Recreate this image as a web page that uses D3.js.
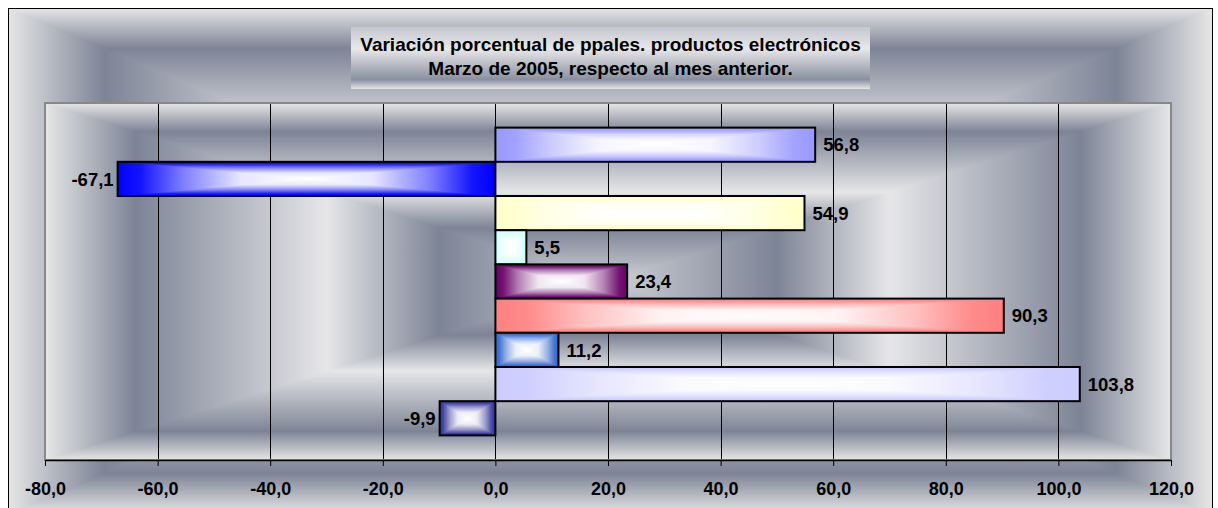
<!DOCTYPE html>
<html>
<head>
<meta charset="utf-8">
<script src="https://cdn.jsdelivr.net/npm/d3@7"></script>
<style>
  body { margin: 0; background: #fff; }
  text { font-family: "Liberation Sans", Arial, sans-serif; font-weight: bold; fill: #000; }
</style>
</head>
<body>
<div id="container"></div>
<script>
// chart data (top to bottom)
const SERIES = ["Serie 1", "Serie 2", "Serie 3", "Serie 4", "Serie 5", "Serie 6", "Serie 7", "Serie 8", "Serie 9"];
const VALUES = [56.8, -67.1, 54.9, 5.5, 23.4, 90.3, 11.2, 103.8, -9.9];
const PALETTE = ["#9999ff", "#0000ff", "#ffffcc", "#ccffff", "#660066", "#ff8080", "#3366cc", "#ccccff", "#333399"];
const TICKS = [-80, -60, -40, -20, 0, 20, 40, 60, 80, 100, 120];
const TITLE = ["Variación porcentual de ppales. productos electrónicos", "Marzo de 2005, respecto al mes anterior."];

// layout constants
const WIDTH = 1218;
const HEIGHT = 508;
const FRAME = { x0: 8, y0: 8, x1: 1212, y1: 514 };
const PLOT = { x0: 45, y0: 103, x1: 1171, y1: 460 };
const TITLE_BOX = { x0: 351, y0: 27, x1: 870, y1: 89 };

// spanish style number: one decimal, comma, plain hyphen
const fmt = (v) => d3.format(".1f")(v).replace(".", ",").replace("\u2212", "-");

const svg = d3.select("#container")
    .append("svg")
    .attr("width", WIDTH)
    .attr("height", HEIGHT);

const defs = svg.append("defs");

// gradient that runs edge -> center -> edge (stops given from edge (0) to center (1))
const mirrored = (id, stops, vertical) => {
    const all = stops.map(([s, c]) => [s / 2, c])
        .concat(stops.slice().reverse().map(([s, c]) => [1 - s / 2, c]));
    defs.append("linearGradient")
        .attr("id", id)
        .attr("x1", 0).attr("y1", 0)
        .attr("x2", vertical ? 0 : 1).attr("y2", vertical ? 1 : 0)
        .selectAll("stop")
        .data(all)
        .enter()
        .append("stop")
        .attr("offset", (d) => d[0])
        .attr("stop-color", (d) => d[1]);
};

// "from center" rectangle shading: vertical part on the whole rect, horizontal part on a bowtie
const makeShade = (id, stops) => {
    mirrored(id + "-v", stops, true);
    mirrored(id + "-h", stops, false);
};

const shadeRect = (g, x0, y0, x1, y1, id) => {
    const cx = (x0 + x1) / 2, cy = (y0 + y1) / 2;
    g.append("rect")
        .attr("x", x0).attr("y", y0)
        .attr("width", x1 - x0).attr("height", y1 - y0)
        .attr("fill", "url(#" + id + "-v)");
    g.append("path")
        .attr("d", `M${x0},${y0}L${cx},${cy}L${x0},${y1}ZM${x1},${y0}L${cx},${cy}L${x1},${y1}Z`)
        .attr("fill", "url(#" + id + "-h)");
};

const SILVER = [[0, "#e6e6e6"], [0.16, "#7d8496"], [0.5, "#e6e6e8"], [0.7, "#7d8496"], [1, "#cfd1d6"]];
makeShade("silver", SILVER);

PALETTE.forEach((c, i) => {
    const mix = d3.interpolateRgb(c, "#ffffff");
    makeShade("bar" + i, [[0, c], [0.12, mix(0.08)], [0.35, mix(0.5)], [0.65, mix(0.9)], [1, "#ffffff"]]);
});

// title box gradient
defs.append("linearGradient")
    .attr("id", "titleFill")
    .attr("x1", 0).attr("y1", 0).attr("x2", 0).attr("y2", 1)
    .selectAll("stop")
    .data([[0, "#c4c7ce"], [0.35, "#e8e8ea"], [0.85, "#8a90a0"], [1, "#e6e6e6"]])
    .enter()
    .append("stop")
    .attr("offset", (d) => d[0])
    .attr("stop-color", (d) => d[1]);

// chart area background
const bg = svg.append("g");
shadeRect(bg, FRAME.x0, FRAME.y0, FRAME.x1, FRAME.y1, "silver");
svg.append("rect")
    .attr("x", FRAME.x0 + 0.5).attr("y", FRAME.y0 + 0.5)
    .attr("width", FRAME.x1 - FRAME.x0).attr("height", FRAME.y1 - FRAME.y0)
    .attr("fill", "none")
    .attr("stroke", "#000");

// title
svg.append("rect")
    .attr("x", TITLE_BOX.x0).attr("y", TITLE_BOX.y0)
    .attr("width", TITLE_BOX.x1 - TITLE_BOX.x0).attr("height", TITLE_BOX.y1 - TITLE_BOX.y0)
    .attr("fill", "url(#titleFill)");

svg.selectAll(".title")
    .data(TITLE)
    .enter()
    .append("text")
    .attr("class", "title")
    .attr("x", (TITLE_BOX.x0 + TITLE_BOX.x1) / 2)
    .attr("y", (d, i) => 51 + i * 24)
    .attr("text-anchor", "middle")
    .style("font-size", "19px")
    .text((d) => d);

// plot area background
const plotBg = svg.append("g");
shadeRect(plotBg, PLOT.x0, PLOT.y0, PLOT.x1, PLOT.y1, "silver");

// scales
const xScale = d3.scaleLinear()
    .domain([TICKS[0], TICKS[TICKS.length - 1]])
    .range([PLOT.x0, PLOT.x1]);

const yScale = d3.scaleBand()
    .domain(SERIES)
    .range([PLOT.y0, PLOT.y1])
    .paddingInner(0)
    .paddingOuter(0.72);

// vertical gridlines
svg.append("g")
    .selectAll("line")
    .data(TICKS.slice(1, -1))
    .enter()
    .append("line")
    .attr("x1", (d) => Math.round(xScale(d)) + 0.5)
    .attr("x2", (d) => Math.round(xScale(d)) + 0.5)
    .attr("y1", PLOT.y0)
    .attr("y2", PLOT.y1)
    .attr("stroke", "#000");

// plot area border
svg.append("rect")
    .attr("x", PLOT.x0).attr("y", PLOT.y0)
    .attr("width", PLOT.x1 - PLOT.x0).attr("height", PLOT.y1 - PLOT.y0)
    .attr("fill", "none")
    .attr("stroke", "#888")
    .attr("stroke-width", 2);

// bars
const x0 = xScale(0);
VALUES.forEach((v, i) => {
    const g = svg.append("g");
    const left = Math.min(xScale(v), x0);
    const right = Math.max(xScale(v), x0);
    const top = yScale(SERIES[i]);
    const bottom = top + yScale.bandwidth();
    shadeRect(g, left, top, right, bottom, "bar" + i);
    g.append("rect")
        .attr("x", left).attr("y", top)
        .attr("width", right - left).attr("height", bottom - top)
        .attr("fill", "none")
        .attr("stroke", "#000")
        .attr("stroke-width", 2);
});

// x axis
const bottomAxis = d3.axisBottom(xScale)
    .tickValues(TICKS)
    .tickSize(6)
    .tickSizeOuter(0)
    .tickFormat(fmt);

const axisG = svg.append("g")
    .attr("transform", "translate(0," + PLOT.y1 + ")")
    .call(bottomAxis);

axisG.select(".domain").attr("stroke", "#000").attr("stroke-width", 1.5);
axisG.selectAll(".tick line").attr("stroke", "#000");
axisG.selectAll(".tick text")
    .attr("y", 22)
    .attr("fill", "#000")
    .style("font-family", "'Liberation Sans', Arial, sans-serif")
    .style("font-weight", "bold")
    .style("font-size", "18px");

// data labels
svg.selectAll(".label")
    .data(VALUES)
    .enter()
    .append("text")
    .attr("class", "label")
    .attr("x", (d) => d >= 0 ? xScale(d) + 8 : xScale(d) - 4)
    .attr("y", (d, i) => yScale(SERIES[i]) + yScale.bandwidth() / 2)
    .attr("dy", "0.36em")
    .attr("text-anchor", (d) => d >= 0 ? "start" : "end")
    .style("font-size", "18.5px")
    .text((d) => fmt(d));
</script>
</body>
</html>
